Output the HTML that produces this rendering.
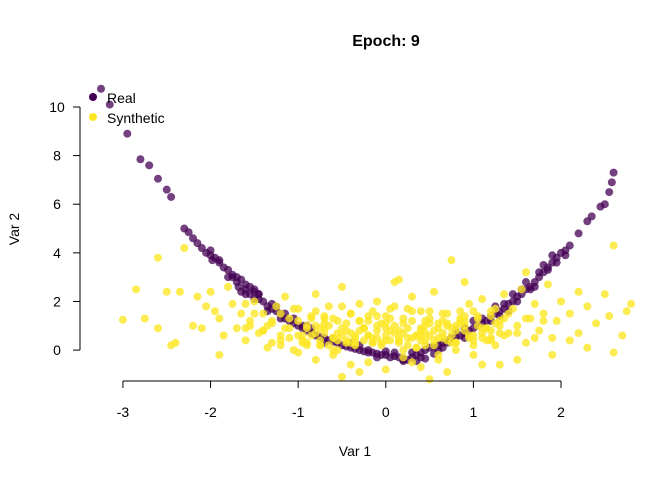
<!DOCTYPE html>
<html><head><meta charset="utf-8"><style>
html,body{margin:0;padding:0;background:#fff}
svg{display:block;font-family:"Liberation Sans",Arial,sans-serif}
</style></head><body>
<svg id="chart" width="672" height="480">
<text x="386" y="46" text-anchor="middle" font-size="16" font-weight="bold">Epoch: 9</text>
<text x="355" y="456" text-anchor="middle" font-size="14">Var 1</text>
<text transform="translate(19,229) rotate(-90)" text-anchor="middle" font-size="14">Var 2</text>
<g id="points"></g>
<g id="axes"></g>
<g>
<circle cx="93" cy="97" r="4" fill="#440154"/>
<text x="107" y="103" font-size="14">Real</text>
<circle cx="93" cy="117" r="4" fill="#FDE725"/>
<text x="107" y="123" font-size="14">Synthetic</text>
</g>
</svg>
<script>
const xTicks=[-3,-2,-1,0,1,2];
const yTicks=[0,2,4,6,8,10];
const realX=[-3.25,-3.15,-2.95,-2.8,-2.7,-2.6,-2.5,-2.45,-2.3,-2.25,-2.2,-2.1,-2.05,-2.0,-1.98,-1.95,-1.9,-1.85,-1.8,-1.75,-1.7,-1.68,-1.65,-1.6,-1.55,-1.5,-1.45,-1.4,-1.35,-1.3,-1.25,-1.2,-1.15,-1.1,-1.05,-1.0,-0.95,-0.9,-0.85,-0.8,-0.75,-0.7,-0.65,-0.6,-0.55,-0.5,-0.45,-0.4,-0.35,-0.3,-0.25,-0.2,-0.15,-0.1,-0.05,0.0,0.05,0.1,0.15,0.2,0.25,0.3,0.35,0.4,0.45,0.5,0.55,0.6,0.65,0.7,0.75,0.8,0.85,0.9,0.95,1.0,1.05,1.1,1.15,1.2,1.25,1.3,1.35,1.4,1.45,1.5,1.55,1.6,1.65,1.7,1.75,1.8,1.85,1.9,1.95,2.0,2.1,2.2,2.3,2.35,2.45,2.5,2.55,2.58,2.6,-1.6,-1.5,-1.3,-1.2,-0.9,-0.7,-0.3,0.1,0.3,0.6,0.8,1.0,1.2,1.4,1.6,1.8,-1.75,-1.45,0.2,0.45,0.9,1.3,1.7,2.05];
const realY=[10.75,10.1,8.9,7.85,7.6,7.05,6.6,6.3,5.0,4.85,4.6,4.2,4.0,3.9,3.7,3.8,3.6,3.4,3.3,3.1,2.8,2.6,2.9,2.5,2.3,2.4,2.1,2.0,1.8,1.7,1.6,1.5,1.3,1.2,1.1,1.0,0.9,0.8,0.7,0.6,0.55,0.5,0.4,0.35,0.3,0.2,0.15,0.1,0.05,0.0,-0.05,-0.1,-0.1,-0.15,-0.2,-0.2,-0.3,-0.25,-0.3,-0.35,-0.4,-0.3,-0.2,-0.1,0.0,0.1,0.15,0.2,0.3,0.4,0.5,0.55,0.6,0.7,0.8,0.9,1.0,1.1,1.2,1.4,1.5,1.6,1.7,1.9,2.0,2.2,2.3,2.5,2.6,2.8,3.0,3.2,3.4,3.6,3.8,4.0,4.3,4.8,5.3,5.5,5.9,6.0,6.5,6.9,7.3,2.7,2.1,1.9,1.3,1.0,0.3,0.2,-0.1,-0.1,0.0,0.8,1.2,1.2,1.6,2.8,3.5,3.0,2.3,-0.45,-0.35,0.5,1.4,2.6,3.9];
const realX2=[-2.15,-2.0,-1.9,-1.8,-1.7,-1.6,-1.55,-1.45,-1.35,-1.25,-1.15,-1.05,-0.95,-0.85,-0.6,-0.4,-0.2,0.0,0.2,0.4,0.55,0.7,0.9,1.1,1.25,1.35,1.45,1.55,1.65,1.75,1.85,1.95,2.05,-1.65,-1.5,1.5,1.9,-0.1,0.35,0.65];
const realY2=[4.4,4.1,3.7,3.0,3.0,2.3,2.6,2.3,1.6,1.8,1.5,1.3,1.0,0.9,0.5,0.3,0.0,-0.05,-0.4,-0.3,-0.15,0.3,0.9,1.3,1.8,1.9,2.3,2.5,2.5,3.2,3.3,3.6,4.1,2.4,2.5,2.0,3.9,-0.3,-0.45,0.1];
const synthX=[-3.0,-2.85,-2.75,-2.6,-2.5,-2.4,-2.35,-2.3,-2.2,-2.15,-2.1,-2.05,-1.95,-1.9,-1.85,-1.8,-1.75,-1.7,-1.65,-1.6,-1.55,-1.5,-1.45,-1.4,-1.35,-1.3,-1.25,-1.2,-1.15,-1.1,-1.05,-1.0,-0.95,-0.9,-0.85,-0.8,-0.75,-0.7,-0.65,-0.6,-0.55,-0.5,-0.45,-0.4,-0.35,-0.3,-0.25,-0.2,-0.15,-0.1,-0.05,0.0,0.05,0.1,0.15,0.2,0.25,0.3,0.35,0.4,0.45,0.5,0.55,0.6,0.65,0.7,0.75,0.8,0.85,0.9,0.95,1.0,1.05,1.1,1.15,1.2,1.25,1.3,1.35,1.4,1.45,1.5,1.55,1.6,1.65,1.7,1.75,1.8,1.85,1.9,1.95,2.0,2.1,2.2,2.3,2.4,2.5,2.55,2.6,2.7,2.8,
-1.4,-1.2,-1.0,-0.9,-0.8,-0.7,-0.6,-0.5,-0.4,-0.3,-0.2,-0.1,0.0,0.1,0.2,0.3,0.4,0.5,0.6,0.7,0.8,0.9,1.0,1.1,1.2,1.3,
-1.3,-1.1,-0.95,-0.85,-0.75,-0.65,-0.55,-0.45,-0.35,-0.25,-0.15,-0.05,0.05,0.15,0.25,0.35,0.45,0.55,0.65,0.75,0.85,0.95,1.05,1.15,1.25,1.35,
-0.8,-0.6,-0.4,-0.2,0.0,0.2,0.4,0.6,0.8,1.0,-1.0,-0.5,0.3,0.7,1.1,1.5,1.9,2.3,-2.6,-2.0,-1.6,-1.2,-0.3,0.5,1.3,2.1,2.6,2.75,-2.45,-1.9,-1.35,0.15,0.9,1.6,2.2,-0.7,-0.1,0.45,1.2,-1.55];
const synthY=[1.25,2.5,1.3,3.8,2.4,0.3,2.4,4.2,1.0,2.2,0.9,1.8,1.6,1.3,0.6,2.6,1.9,0.9,1.5,0.4,1.2,2.0,0.7,1.5,1.0,0.3,1.8,0.6,2.2,1.3,0.0,1.7,0.4,0.9,1.4,2.3,0.2,1.1,1.8,0.5,1.2,2.6,0.8,1.5,0.2,1.9,0.9,1.4,0.3,2.0,1.1,0.6,1.7,2.8,0.4,1.3,0.9,2.2,0.1,1.6,0.7,1.1,2.4,0.5,1.5,1.0,3.7,0.3,1.3,0.8,1.9,0.4,1.4,2.1,0.9,1.6,0.2,1.2,2.3,0.7,1.7,1.0,2.5,0.3,1.3,1.9,0.8,1.5,2.7,0.5,1.2,2.0,1.5,0.7,1.8,1.1,2.3,1.4,4.3,0.6,1.9,
0.8,0.4,0.6,0.2,1.0,0.7,0.5,0.9,0.3,1.2,0.6,0.8,0.4,1.0,0.7,0.5,0.9,0.6,1.1,0.4,0.8,1.0,0.6,0.9,0.5,0.7,
1.1,0.9,0.3,0.6,0.9,0.2,0.7,0.4,0.6,0.9,0.5,0.3,0.8,0.5,0.2,0.6,0.4,0.8,0.5,0.3,1.2,0.6,1.0,0.4,1.1,1.3,
-0.4,-0.2,-0.6,-0.5,-0.8,-0.3,-0.7,-0.4,0.0,-0.2,-0.1,-1.1,-0.5,-0.9,-0.6,-0.4,-0.2,0.1,0.9,2.4,1.9,0.2,-0.9,-1.2,-0.6,0.4,-0.1,1.6,0.2,-0.2,0.1,2.9,2.8,3.2,2.4,1.3,1.4,1.2,0.8,1.0];
const synthX2=[-1.2,-1.1,-1.0,-0.9,-0.8,-0.7,-0.6,-0.5,-0.4,-0.3,
-0.2,-0.1,0.0,0.1,0.2,0.3,0.4,0.5,0.6,0.7,
0.8,0.9,1.0,1.1,1.2,1.3,1.4,-1.15,-1.05,-0.95,
-0.85,-0.75,-0.65,-0.55,-0.45,-0.35,-0.25,-0.15,-0.05,0.05,
0.15,0.25,0.35,0.45,0.55,0.65,0.75,0.85,0.95,1.05,
1.15,1.25,1.35,-0.9,-0.7,-0.5,-0.3,-0.1,0.1,0.3,
0.5,0.7,0.9,1.1,-0.8,-0.6,-0.4,-0.2,0.0,0.2,
0.4,0.6,0.8,1.0,-0.35,-0.15,0.05,0.25,0.45,0.65,
-1.3,-1.4,-1.5,-1.6,1.5,1.6,1.7,1.8,-0.55,0.35,
0.15,-0.25,0.55,-0.75,0.85,0.0,-0.45,0.4,0.75,1.2];
const synthY2=[1.5,0.5,1.2,0.3,1.6,0.9,1.3,0.6,1.5,0.8,
1.2,0.5,1.4,0.7,1.1,1.6,0.4,1.3,0.9,1.5,
0.3,1.2,1.6,0.7,0.4,1.0,1.5,0.9,1.7,0.6,
1.3,0.2,1.0,0.4,1.1,0.3,0.9,1.6,0.2,1.3,
0.8,1.7,0.6,1.0,0.4,1.2,0.9,1.6,0.5,1.3,
0.9,1.7,0.6,1.0,1.4,1.8,1.2,1.0,1.8,1.2,
1.6,1.1,1.4,0.5,0.7,0.0,0.7,0.6,1.1,0.0,
0.8,-0.2,1.0,0.2,0.5,0.3,0.4,0.5,0.2,0.7,
1.2,0.8,1.5,0.9,0.7,1.3,0.5,1.2,0.0,0.1,
0.3,0.4,0.2,0.4,1.1,0.9,0.3,0.6,0.6,1.4];
const X0=-3.49,X1=2.81,PX0=80,PX1=632;
const Y0=-1.23,Y1=10.74,PY0=380,PY1=89;
const sx=v=>PX0+(v-X0)/(X1-X0)*(PX1-PX0);
const sy=v=>PY0+(v-Y0)/(Y1-Y0)*(PY1-PY0);
const NS='http://www.w3.org/2000/svg';
const pts=document.getElementById('points');
function dot(x,y,fill,op,name){
  const c=document.createElementNS(NS,'circle');
  c.setAttribute('cx',sx(x));c.setAttribute('cy',sy(y));c.setAttribute('r',4);
  c.setAttribute('fill',fill);c.setAttribute('fill-opacity',op);
  
  
  pts.appendChild(c);
}
realX.forEach((x,i)=>dot(x,realY[i],'#440154',0.75,'real-point'));
realX2.forEach((x,i)=>dot(x,realY2[i],'#440154',0.75,'real-point'));
synthX.forEach((x,i)=>dot(x,synthY[i],'#FDE725',0.8,'synthetic-point'));
synthX2.forEach((x,i)=>dot(x,synthY2[i],'#FDE725',0.8,'synthetic-point'));
const ax=document.getElementById('axes');
function line(x1,y1,x2,y2,name){
  const l=document.createElementNS(NS,'line');
  l.setAttribute('x1',x1);l.setAttribute('y1',y1);l.setAttribute('x2',x2);l.setAttribute('y2',y2);
  l.setAttribute('stroke','#000');l.setAttribute('stroke-width',1);
  
  
  ax.appendChild(l);
}
function txt(x,y,s,anchor,name){
  const t=document.createElementNS(NS,'text');
  t.setAttribute('x',x);t.setAttribute('y',y);t.setAttribute('text-anchor',anchor);t.setAttribute('font-size',14);
  t.textContent=s;
  
  
  ax.appendChild(t);
}
const AXY=381,AXX=80;
line(sx(xTicks[0]),AXY,sx(xTicks[xTicks.length-1]),AXY,'x-axis-line');
xTicks.forEach(v=>{line(sx(v),AXY,sx(v),AXY+7,'x-tick');txt(sx(v),AXY+36,String(v),'middle','x-tick-label');});
line(AXX,sy(yTicks[0]),AXX,sy(yTicks[yTicks.length-1]),'y-axis-line');
yTicks.forEach(v=>{line(AXX-7,sy(v),AXX,sy(v),'y-tick');txt(AXX-23,sy(v)+5,String(v),'middle','y-tick-label');});
</script>
</body></html>
